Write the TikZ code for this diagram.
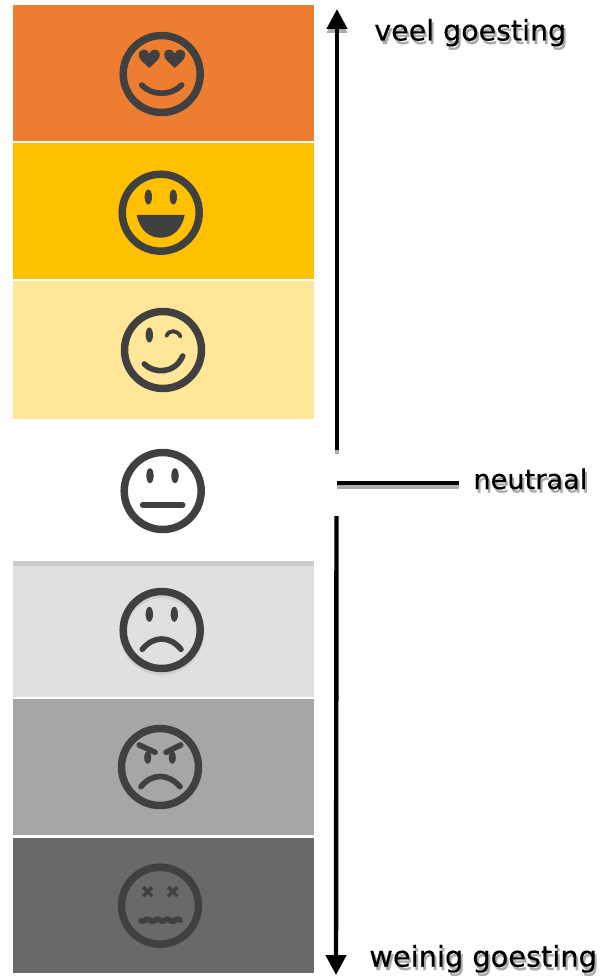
\documentclass[tikz,border=0pt]{standalone}
\usepackage{fontspec}
\setmainfont{DejaVu Sans}
\newfontfamily\labelfont[FakeBold=0.35]{DejaVu Sans}
\usetikzlibrary{arrows.meta}
\definecolor{ink}{HTML}{404040}
\definecolor{shade}{HTML}{ABABAB}
\tikzset{
  band/.style={anchor=north west,inner sep=0pt,minimum width=6.02cm,minimum height=#1},
  face/.style={circle,draw=ink,line width=4.25pt,inner sep=0pt,minimum size=1.54cm},
  mark line/.style={draw=ink,line width=3.2pt,line cap=round},
  label text/.style={anchor=base west,inner sep=0pt,font=\labelfont\fontsize{#1}{19}\selectfont},
  label shade/.style={label text=#1,text=shade},
  scale line/.style={line width=2.5pt},
  shade line/.style={scale line,draw=shade},
  tip/.style={-{Triangle[length=11.3pt,width=11.3pt]}}
}
\begin{document}
\begin{tikzpicture}[x=0.02cm,y=-0.02cm]
  \useasboundingbox (0,0) rectangle (600,976);
  % bands
  \node (loveband) [band=2.72cm,fill={rgb,255:red,237;green,125;blue,49}] at (13,5) {};
  \node (laughband) [band=2.72cm,fill={rgb,255:red,255;green,192;blue,0}] at (13,143) {};
  \node (winkband) [band=2.76cm,fill={rgb,255:red,255;green,230;blue,153}] at (13,281) {};
  \node (sadband) [band=2.72cm,fill={rgb,255:red,224;green,224;blue,224}] at (13,561) {};
  \node (sadstrip) [band=0.1cm,fill={rgb,255:red,205;green,205;blue,205}] at (13,561) {};
  \node (angryband) [band=2.72cm,fill={rgb,255:red,166;green,166;blue,166}] at (13,699) {};
  \node (deadband) [band=2.7cm,fill={rgb,255:red,105;green,105;blue,105}] at (13,838) {};
  % faces
  \node (sadshade) [face,draw={rgb,255:red,208;green,208;blue,208}] at (161.7,633) {};
  \node (loveface) [face] at (161.7,74) {};
  \node (laughface) [face] at (160.7,212.7) {};
  \node (winkface) [face] at (163,350) {};
  \node (flatface) [face] at (162.7,491) {};
  \node (sadface) [face] at (161.7,630) {};
  \node (angryface) [face] at (160,767) {};
  \node (deadface) [face] at (160,905.7) {};
  \begin{scope}[shift={(loveface)}]
    \foreach \eyex in {-12.4,13}
      \fill[ink,shift={(\eyex,-15)}] (0,9) .. controls (-5,4) and (-10.5,0.5) .. (-10.5,-4)
        .. controls (-10.5,-11) and (-2,-11) .. (0,-5.5)
        .. controls (2,-11) and (10.5,-11) .. (10.5,-4)
        .. controls (10.5,0.5) and (5,4) .. (0,9);
    \draw[mark line] (-20,11) .. controls (-10,22) and (10,22) .. (20,11);
  \end{scope}
  \begin{scope}[shift={(laughface)}]
    \foreach \eyex in {-12.4,12.6}
      \fill[ink] (\eyex,-15.7) ellipse [x radius=3.7,y radius=7.5];
    \fill[ink] (-24,2.3) -- (24,2.3) .. controls (21,17) and (12,25) .. (0,25)
      .. controls (-12,25) and (-21,17) .. (-24,2.3) -- cycle;
  \end{scope}
  \begin{scope}[shift={(winkface)}]
    \fill[ink] (-13.7,-15) ellipse [x radius=3.7,y radius=7.5];
    \draw[mark line,line width=2.2pt] (3.5,-14) .. controls (6,-20.5) and (14,-20.5) .. (17.5,-13.5);
    \draw[mark line] (-18.7,14) .. controls (-9,24) and (12,24) .. (19.7,6);
  \end{scope}
  \begin{scope}[shift={(flatface)}]
    \foreach \eyex in {-12.7,12.3}
      \fill[ink] (\eyex,-15.3) ellipse [x radius=3.7,y radius=7.5];
    \draw[mark line] (-20,14) -- (20,14);
  \end{scope}
  \begin{scope}[shift={(sadface)}]
    \foreach \eyex in {-12.4,12.6}
      \fill[ink] (\eyex,-15.7) ellipse [x radius=3.7,y radius=7.5];
    \draw[mark line] (-19.4,19.3) .. controls (-8,5.5) and (8,5.5) .. (19.3,19.3);
  \end{scope}
  \begin{scope}[shift={(angryface)}]
    \foreach \eyex in {-12.3,12.3}
      \fill[ink] (\eyex,-9.5) ellipse [x radius=3.5,y radius=6.5];
    \draw[mark line] (-20.7,-22) -- (-5,-14.7);
    \draw[mark line] (20.7,-22) -- (6,-14.7);
    \draw[mark line] (-19,19.7) .. controls (-8,6) and (8,6) .. (20,19.7);
  \end{scope}
  \begin{scope}[shift={(deadface)}]
    \foreach \eyex in {-12.3,12.7} {
      \draw[ink,line width=2pt] (\eyex-4.5,-18.5) -- (\eyex+4.5,-9.5);
      \draw[ink,line width=2pt] (\eyex+4.5,-18.5) -- (\eyex-4.5,-9.5);
    }
    \draw[mark line] plot[domain=-19:20,samples=60,smooth] (\x,{14.5+sin(\x*36)});
  \end{scope}
  % scale on the right
  \coordinate (uptip) at (337,9);
  \coordinate (upfoot) at (337,450);
  \coordinate (midleft) at (337,483);
  \coordinate (midright) at (459,483);
  \coordinate (downfoot) at (336.5,516);
  \coordinate (downtip) at (336,975);
  \draw[shade line,tip] ([yshift=-2.3pt]upfoot) -- ([yshift=-2.3pt]uptip);
  \draw[shade line] ([yshift=-2.4pt]midleft) -- ([yshift=-2.4pt]midright);
  \draw[scale line,tip] (upfoot) -- (uptip);
  \draw[scale line] (midleft) -- (midright);
  \draw[scale line,tip] (downfoot) -- (downtip);
  % labels
  \node (veelshade) [label shade=16.2] at (376,44) {veel goesting};
  \node (veel) [label text=16.2] at (374,40.5) {veel goesting};
  \node (neutraalshade) [label shade=15.5] at (475,492.5) {neutraal};
  \node (neutraal) [label text=15.5] at (473,489) {neutraal};
  \node (weinigshade) [label shade=16.4] at (371,970) {weinig goesting};
  \node (weinig) [label text=16.4] at (369,966.7) {weinig goesting};
\end{tikzpicture}
\end{document}
